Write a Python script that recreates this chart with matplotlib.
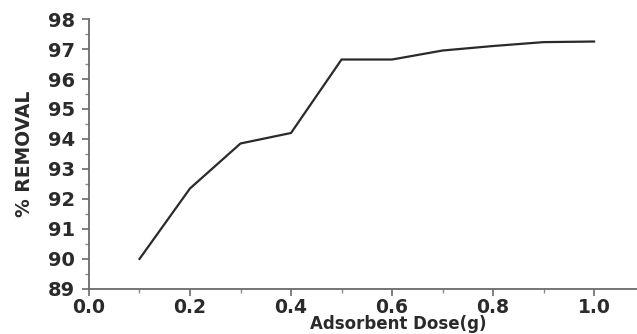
import numpy as np
import matplotlib
matplotlib.use("Agg")
import matplotlib.pyplot as plt
from matplotlib.ticker import MultipleLocator

# adsorbent dose (g) vs. removal efficiency (%)
doza = [0.1, 0.2, 0.3, 0.4, 0.5, 0.6, 0.7, 0.8, 0.9, 1.0]
uklanjanje = [90.0, 92.35, 93.85, 94.2, 96.65, 96.65, 96.95, 97.1, 97.23, 97.25]
oznake_x = ['0.0', '0.2', '0.4', '0.6', '0.8', '1.0']

plt.rcParams['font.family'] = 'DejaVu Sans'
plt.rcParams['font.weight'] = 'bold'

fig = plt.figure(figsize=(6.37, 3.34), dpi=100)
ax = fig.add_axes([0.1397, 0.135, 0.8603, 0.808])

ax.plot(doza, uklanjanje, color='#2a2a2a', linewidth=1.6)

ax.set_xlim(0.0, 1.085)
ax.set_ylim(89, 98)
ax.set_xticks([float(o) for o in oznake_x])
ax.set_xticklabels(oznake_x)
ax.xaxis.set_minor_locator(MultipleLocator(0.1))
ax.yaxis.set_major_locator(MultipleLocator(1))
ax.yaxis.set_minor_locator(MultipleLocator(0.5))

for s in ['top', 'right']:
    ax.spines[s].set_visible(False)
for s in ['left', 'bottom']:
    ax.spines[s].set_color('#6a6a6a')
    ax.spines[s].set_linewidth(1.3)

ax.tick_params(which='major', direction='out', length=5, width=1.2,
               color='#6a6a6a', labelsize=14, labelcolor='#2a2a2a')
ax.tick_params(axis='y', which='major', pad=5)
ax.tick_params(axis='x', which='major', pad=1.5, labelsize=13.5)
ax.tick_params(which='minor', direction='out', length=3, width=1.0,
               color='#8a8a8a')

ax.set_xlabel('Adsorbent Dose(g)', fontsize=12, fontweight='bold',
              color='#2a2a2a')
ax.xaxis.set_label_coords(0.564, -0.097)
ax.set_ylabel('% REMOVAL', fontsize=13.5, fontweight='bold',
              color='#2a2a2a', labelpad=10)

plt.savefig('out.png', dpi=100)
